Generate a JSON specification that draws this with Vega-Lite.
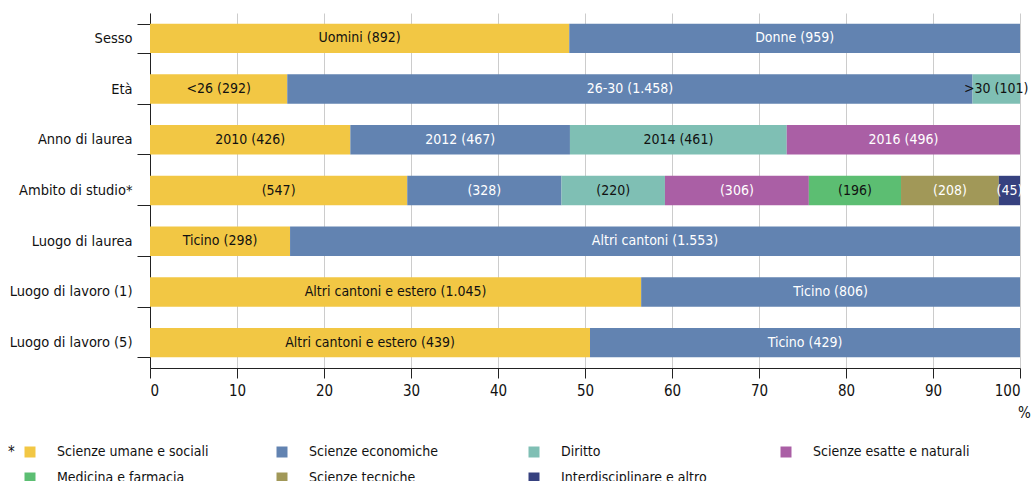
{
  "$schema": "https://vega.github.io/schema/vega-lite/v6.json",
  "width": 870,
  "height": 355,
  "autosize": {"type": "none"},
  "padding": {"left": 150, "top": 13, "right": 12, "bottom": 113},
  "config": {
    "font": "DejaVu Sans Condensed, Roboto, sans-serif",
    "view": {"stroke": null},
    "axis": {"labelFont": "DejaVu Sans Condensed, Roboto, sans-serif", "titleFont": "DejaVu Sans Condensed, Roboto, sans-serif"},
    "legend": {"labelFont": "DejaVu Sans Condensed, Roboto, sans-serif", "titleFont": "DejaVu Sans Condensed, Roboto, sans-serif"}
  },
  "data": {
    "values": [
      {"cat": "Sesso", "label": "Uomini (892)", "n": 892, "ord": 1, "serie": "Scienze umane e sociali"},
      {"cat": "Sesso", "label": "Donne (959)", "n": 959, "ord": 2, "serie": "Scienze economiche"},
      {"cat": "Età", "label": "<26 (292)", "n": 292, "ord": 1, "serie": "Scienze umane e sociali"},
      {"cat": "Età", "label": "26-30 (1.458)", "n": 1458, "ord": 2, "serie": "Scienze economiche"},
      {"cat": "Età", "label": ">30 (101)", "n": 101, "ord": 3, "serie": "Diritto"},
      {"cat": "Anno di laurea", "label": "2010 (426)", "n": 426, "ord": 1, "serie": "Scienze umane e sociali"},
      {"cat": "Anno di laurea", "label": "2012 (467)", "n": 467, "ord": 2, "serie": "Scienze economiche"},
      {"cat": "Anno di laurea", "label": "2014 (461)", "n": 461, "ord": 3, "serie": "Diritto"},
      {"cat": "Anno di laurea", "label": "2016 (496)", "n": 496, "ord": 4, "serie": "Scienze esatte e naturali"},
      {"cat": "Ambito di studio*", "label": "(547)", "n": 547, "ord": 1, "serie": "Scienze umane e sociali"},
      {"cat": "Ambito di studio*", "label": "(328)", "n": 328, "ord": 2, "serie": "Scienze economiche"},
      {"cat": "Ambito di studio*", "label": "(220)", "n": 220, "ord": 3, "serie": "Diritto"},
      {"cat": "Ambito di studio*", "label": "(306)", "n": 306, "ord": 4, "serie": "Scienze esatte e naturali"},
      {"cat": "Ambito di studio*", "label": "(196)", "n": 196, "ord": 5, "serie": "Medicina e farmacia"},
      {"cat": "Ambito di studio*", "label": "(208)", "n": 208, "ord": 6, "serie": "Scienze tecniche"},
      {"cat": "Ambito di studio*", "label": "(45)", "n": 45, "ord": 7, "serie": "Interdisciplinare e altro"},
      {"cat": "Luogo di laurea", "label": "Ticino (298)", "n": 298, "ord": 1, "serie": "Scienze umane e sociali"},
      {"cat": "Luogo di laurea", "label": "Altri cantoni (1.553)", "n": 1553, "ord": 2, "serie": "Scienze economiche"},
      {"cat": "Luogo di lavoro (1)", "label": "Altri cantoni e estero (1.045)", "n": 1045, "ord": 1, "serie": "Scienze umane e sociali"},
      {"cat": "Luogo di lavoro (1)", "label": "Ticino (806)", "n": 806, "ord": 2, "serie": "Scienze economiche"},
      {"cat": "Luogo di lavoro (5)", "label": "Altri cantoni e estero (439)", "n": 439, "ord": 1, "serie": "Scienze umane e sociali"},
      {"cat": "Luogo di lavoro (5)", "label": "Ticino (429)", "n": 429, "ord": 2, "serie": "Scienze economiche"}
    ]
  },
  "encoding": {
    "y": {
      "field": "cat",
      "type": "nominal",
      "sort": ["Sesso", "Età", "Anno di laurea", "Ambito di studio*", "Luogo di laurea", "Luogo di lavoro (1)", "Luogo di lavoro (5)"],
      "scale": {"paddingInner": 0.42, "paddingOuter": 0.21},
      "axis": {
        "title": null,
        "tickBand": "extent",
        "tickSize": 13,
        "tickColor": "#222",
        "domainColor": "#222",
        "labelFontSize": 14.5,
        "labelColor": "#111",
        "labelPadding": 5,
        "labelLimit": 200
      }
    }
  },
  "layer": [
    {
      "mark": {"type": "bar"},
      "encoding": {
        "x": {
          "field": "n",
          "type": "quantitative",
          "stack": "normalize",
          "scale": {"domain": [0, 1], "nice": false},
          "axis": {
            "values": [0, 0.1, 0.2, 0.3, 0.4, 0.5, 0.6, 0.7, 0.8, 0.9, 1],
            "labelExpr": "round(datum.value * 100)",
            "grid": true,
            "gridColor": "#cccccc",
            "tickColor": "#222",
            "domainColor": "#222",
            "tickSize": 10,
            "labelFontSize": 15,
            "labelColor": "#111",
            "labelPadding": 5,
            "title": "%",
            "titleFontSize": 15,
            "titleFontWeight": "normal",
            "titleColor": "#111",
            "titleAnchor": "end",
            "titleAlign": "center",
            "titleX": 874,
            "titleY": 37,
            "titleBaseline": "top"
          }
        },
        "color": {
          "field": "serie",
          "type": "nominal",
          "scale": {
            "domain": ["Scienze umane e sociali", "Scienze economiche", "Diritto", "Scienze esatte e naturali", "Medicina e farmacia", "Scienze tecniche", "Interdisciplinare e altro"],
            "range": ["#f2c744", "#6283b1", "#7fbfb4", "#aa5fa5", "#5cbe72", "#a19858", "#36417f"]
          },
          "legend": {
            "orient": "none",
            "legendX": -142,
            "legendY": 432,
            "direction": "horizontal",
            "columns": 4,
            "gridAlign": "all",
            "columnPadding": 61,
            "rowPadding": 12,
            "title": "*",
            "titleOrient": "left",
            "titleAnchor": "start",
            "titleBaseline": "top",
            "titleFontSize": 15,
            "titleFontWeight": "normal",
            "titleColor": "#111",
            "titlePadding": 8,
            "symbolType": "square",
            "symbolSize": 121,
            "symbolStrokeWidth": 0,
            "symbolOpacity": 1,
            "labelFontSize": 14,
            "labelColor": "#111",
            "labelOffset": 20,
            "labelLimit": 300
          }
        },
        "order": {"field": "ord"}
      }
    },
    {
      "mark": {"type": "text", "fontSize": 14},
      "encoding": {
        "x": {"field": "n", "type": "quantitative", "stack": "normalize", "bandPosition": 0.5},
        "text": {"field": "label"},
        "color": {
          "condition": {"test": "indexof(['Scienze economiche','Scienze esatte e naturali','Scienze tecniche','Interdisciplinare e altro'], datum.serie) >= 0", "value": "#ffffff"},
          "value": "#111111"
        },
        "order": {"field": "ord"}
      }
    }
  ]
}
